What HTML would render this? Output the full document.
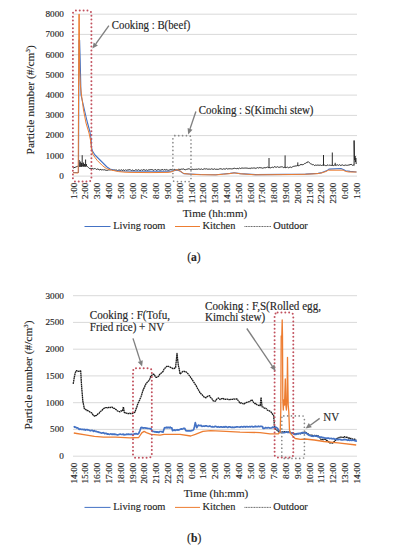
<!DOCTYPE html>
<html><head><meta charset="utf-8"><style>
html,body{margin:0;padding:0;background:#fff;}
svg{display:block;}
text{font-family:"Liberation Serif", serif;fill:#262626;stroke:#262626;stroke-width:0.15px;}
</style></head><body>
<svg width="393" height="550" viewBox="0 0 393 550">
<rect width="393" height="550" fill="#fff"/>
<line x1="73.0" y1="176.1" x2="357.0" y2="176.1" stroke="#d9d9d9" stroke-width="1"/>
<text x="63.9" y="178.9" font-size="9.2" text-anchor="end" >0</text>
<line x1="73.0" y1="155.9" x2="357.0" y2="155.9" stroke="#d9d9d9" stroke-width="1"/>
<text x="63.9" y="158.7" font-size="9.2" text-anchor="end" >1000</text>
<line x1="73.0" y1="135.6" x2="357.0" y2="135.6" stroke="#d9d9d9" stroke-width="1"/>
<text x="63.9" y="138.4" font-size="9.2" text-anchor="end" >2000</text>
<line x1="73.0" y1="115.4" x2="357.0" y2="115.4" stroke="#d9d9d9" stroke-width="1"/>
<text x="63.9" y="118.2" font-size="9.2" text-anchor="end" >3000</text>
<line x1="73.0" y1="95.1" x2="357.0" y2="95.1" stroke="#d9d9d9" stroke-width="1"/>
<text x="63.9" y="97.9" font-size="9.2" text-anchor="end" >4000</text>
<line x1="73.0" y1="74.9" x2="357.0" y2="74.9" stroke="#d9d9d9" stroke-width="1"/>
<text x="63.9" y="77.7" font-size="9.2" text-anchor="end" >5000</text>
<line x1="73.0" y1="54.7" x2="357.0" y2="54.7" stroke="#d9d9d9" stroke-width="1"/>
<text x="63.9" y="57.5" font-size="9.2" text-anchor="end" >6000</text>
<line x1="73.0" y1="34.4" x2="357.0" y2="34.4" stroke="#d9d9d9" stroke-width="1"/>
<text x="63.9" y="37.2" font-size="9.2" text-anchor="end" >7000</text>
<line x1="73.0" y1="14.2" x2="357.0" y2="14.2" stroke="#d9d9d9" stroke-width="1"/>
<text x="63.9" y="17.0" font-size="9.2" text-anchor="end" >8000</text>
<line x1="73.0" y1="456.2" x2="357.0" y2="456.2" stroke="#d9d9d9" stroke-width="1"/>
<text x="63.9" y="459.0" font-size="9.2" text-anchor="end" >0</text>
<line x1="73.0" y1="429.4" x2="357.0" y2="429.4" stroke="#d9d9d9" stroke-width="1"/>
<text x="63.9" y="432.2" font-size="9.2" text-anchor="end" >500</text>
<line x1="73.0" y1="402.7" x2="357.0" y2="402.7" stroke="#d9d9d9" stroke-width="1"/>
<text x="63.9" y="405.5" font-size="9.2" text-anchor="end" >1000</text>
<line x1="73.0" y1="375.9" x2="357.0" y2="375.9" stroke="#d9d9d9" stroke-width="1"/>
<text x="63.9" y="378.8" font-size="9.2" text-anchor="end" >1500</text>
<line x1="73.0" y1="349.2" x2="357.0" y2="349.2" stroke="#d9d9d9" stroke-width="1"/>
<text x="63.9" y="352.0" font-size="9.2" text-anchor="end" >2000</text>
<line x1="73.0" y1="322.4" x2="357.0" y2="322.4" stroke="#d9d9d9" stroke-width="1"/>
<text x="63.9" y="325.2" font-size="9.2" text-anchor="end" >2500</text>
<line x1="73.0" y1="295.7" x2="357.0" y2="295.7" stroke="#d9d9d9" stroke-width="1"/>
<text x="63.9" y="298.5" font-size="9.2" text-anchor="end" >3000</text>
<text transform="translate(76.6,182.6) rotate(-90)" font-size="9.2" text-anchor="end">1:00</text>
<text transform="translate(88.4,182.6) rotate(-90)" font-size="9.2" text-anchor="end">2:00</text>
<text transform="translate(100.2,182.6) rotate(-90)" font-size="9.2" text-anchor="end">3:00</text>
<text transform="translate(112.0,182.6) rotate(-90)" font-size="9.2" text-anchor="end">4:00</text>
<text transform="translate(123.8,182.6) rotate(-90)" font-size="9.2" text-anchor="end">5:00</text>
<text transform="translate(135.6,182.6) rotate(-90)" font-size="9.2" text-anchor="end">6:00</text>
<text transform="translate(147.4,182.6) rotate(-90)" font-size="9.2" text-anchor="end">7:00</text>
<text transform="translate(159.2,182.6) rotate(-90)" font-size="9.2" text-anchor="end">8:00</text>
<text transform="translate(171.0,182.6) rotate(-90)" font-size="9.2" text-anchor="end">9:00</text>
<text transform="translate(182.8,182.6) rotate(-90)" font-size="9.2" text-anchor="end">10:00</text>
<text transform="translate(194.6,182.6) rotate(-90)" font-size="9.2" text-anchor="end">11:00</text>
<text transform="translate(206.4,182.6) rotate(-90)" font-size="9.2" text-anchor="end">12:00</text>
<text transform="translate(218.2,182.6) rotate(-90)" font-size="9.2" text-anchor="end">13:00</text>
<text transform="translate(230.0,182.6) rotate(-90)" font-size="9.2" text-anchor="end">14:00</text>
<text transform="translate(241.8,182.6) rotate(-90)" font-size="9.2" text-anchor="end">15:00</text>
<text transform="translate(253.6,182.6) rotate(-90)" font-size="9.2" text-anchor="end">16:00</text>
<text transform="translate(265.4,182.6) rotate(-90)" font-size="9.2" text-anchor="end">17:00</text>
<text transform="translate(277.2,182.6) rotate(-90)" font-size="9.2" text-anchor="end">18:00</text>
<text transform="translate(289.0,182.6) rotate(-90)" font-size="9.2" text-anchor="end">19:00</text>
<text transform="translate(300.8,182.6) rotate(-90)" font-size="9.2" text-anchor="end">20:00</text>
<text transform="translate(312.6,182.6) rotate(-90)" font-size="9.2" text-anchor="end">21:00</text>
<text transform="translate(324.4,182.6) rotate(-90)" font-size="9.2" text-anchor="end">22:00</text>
<text transform="translate(336.2,182.6) rotate(-90)" font-size="9.2" text-anchor="end">23:00</text>
<text transform="translate(348.0,182.6) rotate(-90)" font-size="9.2" text-anchor="end">0:00</text>
<text transform="translate(359.8,182.6) rotate(-90)" font-size="9.2" text-anchor="end">1:00</text>
<text transform="translate(76.6,462.6) rotate(-90)" font-size="9.2" text-anchor="end">14:00</text>
<text transform="translate(88.4,462.6) rotate(-90)" font-size="9.2" text-anchor="end">15:00</text>
<text transform="translate(100.2,462.6) rotate(-90)" font-size="9.2" text-anchor="end">16:00</text>
<text transform="translate(112.0,462.6) rotate(-90)" font-size="9.2" text-anchor="end">17:00</text>
<text transform="translate(123.8,462.6) rotate(-90)" font-size="9.2" text-anchor="end">18:00</text>
<text transform="translate(135.6,462.6) rotate(-90)" font-size="9.2" text-anchor="end">19:00</text>
<text transform="translate(147.4,462.6) rotate(-90)" font-size="9.2" text-anchor="end">20:00</text>
<text transform="translate(159.2,462.6) rotate(-90)" font-size="9.2" text-anchor="end">21:00</text>
<text transform="translate(171.0,462.6) rotate(-90)" font-size="9.2" text-anchor="end">22:00</text>
<text transform="translate(182.8,462.6) rotate(-90)" font-size="9.2" text-anchor="end">23:00</text>
<text transform="translate(194.6,462.6) rotate(-90)" font-size="9.2" text-anchor="end">0:00</text>
<text transform="translate(206.4,462.6) rotate(-90)" font-size="9.2" text-anchor="end">1:00</text>
<text transform="translate(218.2,462.6) rotate(-90)" font-size="9.2" text-anchor="end">2:00</text>
<text transform="translate(230.0,462.6) rotate(-90)" font-size="9.2" text-anchor="end">3:00</text>
<text transform="translate(241.8,462.6) rotate(-90)" font-size="9.2" text-anchor="end">4:00</text>
<text transform="translate(253.6,462.6) rotate(-90)" font-size="9.2" text-anchor="end">5:00</text>
<text transform="translate(265.4,462.6) rotate(-90)" font-size="9.2" text-anchor="end">6:00</text>
<text transform="translate(277.2,462.6) rotate(-90)" font-size="9.2" text-anchor="end">7:00</text>
<text transform="translate(289.0,462.6) rotate(-90)" font-size="9.2" text-anchor="end">8:00</text>
<text transform="translate(300.8,462.6) rotate(-90)" font-size="9.2" text-anchor="end">9:00</text>
<text transform="translate(312.6,462.6) rotate(-90)" font-size="9.2" text-anchor="end">10:00</text>
<text transform="translate(324.4,462.6) rotate(-90)" font-size="9.2" text-anchor="end">11:00</text>
<text transform="translate(336.2,462.6) rotate(-90)" font-size="9.2" text-anchor="end">12:00</text>
<text transform="translate(348.0,462.6) rotate(-90)" font-size="9.2" text-anchor="end">13:00</text>
<text transform="translate(359.8,462.6) rotate(-90)" font-size="9.2" text-anchor="end">14:00</text>
<text transform="translate(33.6,99.8) rotate(-90)" font-size="11.4" text-anchor="middle">Particle number (#/cm<tspan font-size="7" dy="-4">3</tspan><tspan dy="4">)</tspan></text>
<text transform="translate(32.4,375) rotate(-90)" font-size="11.4" text-anchor="middle">Particle number (#/cm<tspan font-size="7" dy="-4">3</tspan><tspan dy="4">)</tspan></text>
<text x="215.0" y="217.3" font-size="11.1" text-anchor="middle" >Time (hh:mm)</text>
<text x="216.0" y="496.8" font-size="11.1" text-anchor="middle" >Time (hh:mm)</text>
<line x1="84.5" y1="226.5" x2="110.5" y2="226.5" stroke="#4472c4" stroke-width="1.0"/>
<text x="113.2" y="229.0" font-size="10.4" text-anchor="start" >Living room</text>
<line x1="175" y1="226.5" x2="200" y2="226.5" stroke="#ed7d31" stroke-width="1.0"/>
<text x="202.5" y="229.0" font-size="10.4" text-anchor="start" >Kitchen</text>
<line x1="244.5" y1="226.5" x2="271" y2="226.5" stroke="#333" stroke-width="0.8" stroke-dasharray="1 0.6"/>
<text x="273.2" y="229.0" font-size="10.4" text-anchor="start" >Outdoor</text>
<line x1="84.5" y1="507.4" x2="110.5" y2="507.4" stroke="#4472c4" stroke-width="1.0"/>
<text x="113.2" y="509.9" font-size="10.4" text-anchor="start" >Living room</text>
<line x1="175" y1="507.4" x2="200" y2="507.4" stroke="#ed7d31" stroke-width="1.0"/>
<text x="202.5" y="509.9" font-size="10.4" text-anchor="start" >Kitchen</text>
<line x1="244.5" y1="507.4" x2="271" y2="507.4" stroke="#333" stroke-width="0.8" stroke-dasharray="1 0.6"/>
<text x="273.2" y="509.9" font-size="10.4" text-anchor="start" >Outdoor</text>
<text x="193.9" y="260.6" font-size="11.6" text-anchor="middle" >(<tspan font-weight="bold">a</tspan>)</text>
<text x="194.2" y="541.6" font-size="11.6" text-anchor="middle" >(<tspan font-weight="bold">b</tspan>)</text>
<polyline points="73.0,168.1 74.0,167.7 75.0,167.3 75.8,167.1 76.7,166.6 77.5,166.4 78.3,165.5 79.1,166.0 80.0,166.4 80.8,166.1 81.6,166.4 82.4,165.6 83.2,166.0 84.0,165.7 84.9,166.0 85.7,166.1 86.5,165.5 87.5,166.6 88.5,167.6 89.3,168.4 90.2,168.5 91.0,168.2 91.9,168.9 92.8,168.4 93.6,169.0 94.5,168.6 95.4,168.6 96.3,169.5 97.2,169.0 98.1,169.0 99.1,169.9 100.0,169.8 100.9,169.3 101.8,170.1 102.6,169.7 103.4,169.9 104.2,169.5 105.0,170.3 105.8,170.1 106.6,170.4 107.4,170.4 108.2,169.9 109.0,170.0 109.9,169.8 110.7,169.8 111.6,169.7 112.4,169.9 113.3,170.2 114.1,169.7 114.9,170.3 115.8,170.0 116.6,170.0 117.5,170.5 118.3,170.2 119.2,170.0 120.0,170.2 120.8,170.4 121.6,169.7 122.4,170.7 123.2,169.7 124.0,170.4 124.8,170.5 125.6,169.7 126.5,170.4 127.3,170.0 128.1,170.2 128.9,169.6 129.7,169.7 130.5,169.8 131.3,170.6 132.1,169.8 132.9,170.4 133.7,170.5 134.5,170.5 135.3,169.9 136.1,169.9 136.9,170.1 137.7,170.3 138.5,169.7 139.4,170.3 140.2,170.3 141.0,170.4 141.8,169.6 142.6,170.5 143.4,169.6 144.2,169.8 145.0,170.1 145.8,170.4 146.6,169.8 147.4,170.4 148.2,170.0 149.0,169.8 149.8,169.8 150.6,169.6 151.5,169.5 152.3,169.6 153.1,170.1 153.9,170.4 154.7,169.6 155.5,169.5 156.3,170.4 157.1,169.9 157.9,169.8 158.7,169.6 159.5,170.0 160.3,170.2 161.1,169.8 161.9,169.8 162.7,169.4 163.5,170.3 164.4,169.4 165.2,169.8 166.0,170.2 166.8,169.5 167.6,170.1 168.4,170.3 169.2,169.9 170.0,170.1 170.8,169.4 171.7,169.7 172.5,169.3 173.3,170.0 174.2,169.4 175.0,169.5 175.8,170.0 176.7,169.8 177.5,169.9 178.3,169.3 179.2,169.3 180.0,169.5 180.8,169.3 181.6,169.1 182.4,169.2 183.2,168.9 184.0,169.1 184.8,169.7 185.6,169.7 186.4,169.4 187.2,169.2 188.0,169.0 188.8,168.8 189.6,169.0 190.4,169.5 191.2,169.5 192.1,169.0 192.9,169.4 193.7,169.4 194.5,169.3 195.3,169.3 196.1,169.4 196.9,169.0 197.7,169.3 198.5,168.9 199.3,169.1 200.1,169.3 200.9,169.3 201.7,168.9 202.5,169.5 203.3,169.2 204.1,169.1 204.9,168.5 205.7,169.1 206.5,168.8 207.3,169.2 208.1,169.0 208.9,169.3 209.7,169.1 210.5,169.3 211.3,168.8 212.1,169.1 212.9,169.2 213.8,169.3 214.6,168.8 215.4,169.3 216.2,169.3 217.0,169.1 217.8,169.4 218.6,169.3 219.4,168.9 220.2,168.9 221.0,168.5 221.8,169.2 222.6,169.3 223.4,168.8 224.2,169.0 225.0,169.0 225.8,169.0 226.6,168.4 227.4,169.0 228.2,168.8 229.1,168.9 229.9,168.6 230.7,168.8 231.5,168.9 232.3,168.8 233.1,168.9 233.9,168.1 234.7,168.3 235.5,168.5 236.4,168.7 237.2,168.3 238.0,168.7 238.8,168.7 239.6,168.0 240.4,168.5 241.2,168.2 242.0,168.0 242.8,168.1 243.6,168.2 244.5,168.1 245.3,168.1 246.1,167.9 246.9,168.3 247.7,168.2 248.5,168.4 249.3,168.4 250.1,168.0 250.9,168.7 251.8,167.8 252.6,168.2 253.4,168.0 254.2,168.1 255.0,167.8 255.8,168.5 256.7,168.0 257.5,167.6 258.3,168.1 259.2,167.5 260.0,167.9 260.8,167.7 261.7,167.9 262.5,168.2 263.3,168.0 264.2,167.6 265.0,167.9 265.8,167.7 266.7,167.4 267.5,167.1 268.3,167.6 269.2,167.5 270.0,167.9 270.8,167.8 271.7,167.4 272.5,167.2 273.3,167.7 274.2,166.7 275.0,166.8 275.8,167.2 276.7,167.2 277.5,166.7 278.3,167.2 279.2,167.4 280.0,166.9 280.8,167.0 281.7,166.8 282.5,166.9 283.3,167.6 284.2,167.0 285.0,167.7 285.8,167.6 286.7,167.4 287.5,167.1 288.3,167.8 289.2,167.4 290.0,167.3 290.8,167.0 291.7,167.5 292.5,166.8 293.3,166.4 294.2,166.4 295.0,165.8 295.9,166.1 296.7,165.8 297.6,165.4 298.4,165.7 299.3,165.6 300.1,164.6 301.0,164.9 301.9,164.4 302.8,164.8 303.6,164.4 304.5,163.6 305.4,163.4 306.3,162.6 307.1,162.8 308.0,161.5 308.8,162.4 309.7,162.9 310.5,163.7 311.5,164.1 312.4,164.7 313.4,164.5 314.4,165.6 315.3,165.1 316.3,165.3 317.2,165.1 318.2,165.1 319.0,165.3 319.8,165.2 320.6,165.1 321.5,165.5 322.3,165.3 323.1,164.8 323.9,165.0 324.7,165.2 325.6,165.6 326.4,165.6 327.2,165.3 328.0,164.7 328.8,165.5 329.6,165.1 330.4,165.3 331.2,165.4 332.1,165.3 332.9,165.1 333.7,165.6 334.5,165.0 335.3,165.0 336.1,165.5 336.9,164.8 337.8,164.9 338.6,165.4 339.4,164.7 340.2,165.4 341.0,165.3 341.8,165.1 342.6,164.9 343.4,165.4 344.2,165.6 345.0,164.8 345.8,165.2 346.6,165.3 347.4,165.3 348.2,165.1 349.0,165.0 350.1,164.7 351.2,164.3 352.4,165.3 353.5,165.0 354.1,165.5 354.1,140.5 354.5,160.0 355.0,156.0 355.4,162.0 355.8,158.0 356.2,164.0" fill="none" stroke="#2a2a2a" stroke-width="1.0" stroke-linejoin="round" />
<line x1="79.2" y1="166.5" x2="79.2" y2="160" stroke="#2a2a2a" stroke-width="1.0"/>
<line x1="80.0" y1="166.5" x2="80.0" y2="162.5" stroke="#2a2a2a" stroke-width="1.0"/>
<line x1="80.7" y1="166.5" x2="80.7" y2="161.5" stroke="#2a2a2a" stroke-width="1.0"/>
<line x1="81.5" y1="166.5" x2="81.5" y2="163" stroke="#2a2a2a" stroke-width="1.0"/>
<line x1="82.2" y1="166.5" x2="82.2" y2="155.2" stroke="#2a2a2a" stroke-width="1.0"/>
<line x1="83.0" y1="166.5" x2="83.0" y2="163" stroke="#2a2a2a" stroke-width="1.0"/>
<line x1="83.6" y1="166.5" x2="83.6" y2="162.5" stroke="#2a2a2a" stroke-width="1.0"/>
<line x1="84.5" y1="166.5" x2="84.5" y2="164" stroke="#2a2a2a" stroke-width="1.0"/>
<line x1="85.6" y1="166.5" x2="85.6" y2="159.5" stroke="#2a2a2a" stroke-width="1.0"/>
<line x1="86.4" y1="166.5" x2="86.4" y2="164" stroke="#2a2a2a" stroke-width="1.0"/>
<line x1="269" y1="167.9" x2="269" y2="158" stroke="#2a2a2a" stroke-width="1.0"/>
<line x1="285.1" y1="167.7" x2="285.1" y2="155.4" stroke="#2a2a2a" stroke-width="1.0"/>
<line x1="297.8" y1="166.1" x2="297.8" y2="162.4" stroke="#2a2a2a" stroke-width="1.0"/>
<line x1="323.5" y1="165.7" x2="323.5" y2="155.0" stroke="#2a2a2a" stroke-width="1.0"/>
<line x1="332.3" y1="165.7" x2="332.3" y2="152.5" stroke="#2a2a2a" stroke-width="1.0"/>
<line x1="335.2" y1="165.6" x2="335.2" y2="162.8" stroke="#2a2a2a" stroke-width="1.0"/>
<polyline points="73.0,172.5 78.5,172.5 79.0,40.0 79.6,40.0 80.2,60.0 81.0,95.0 84.0,108.0 87.0,121.0 90.0,132.0 91.2,140.0 91.6,148.0 92.5,151.0 95.0,155.0 100.0,160.0 104.0,164.0 107.0,167.0 110.0,169.0 115.0,170.5 120.0,171.0 150.0,171.2 171.0,171.2 174.0,170.6 176.9,169.9 179.9,171.0 183.7,173.6 189.8,174.0 200.5,174.5 215.8,174.7 223.4,174.0 230.0,173.4 234.2,172.7 240.3,173.6 255.5,174.6 285.0,174.4 305.4,174.1 318.0,173.4 322.0,172.6 327.1,170.6 328.9,169.1 340.9,168.5 343.8,169.7 345.5,170.8 350.1,171.4 356.5,172.0" fill="none" stroke="#4472c4" stroke-width="1.1" stroke-linejoin="round" />
<polyline points="73.0,172.8 78.2,173.0 78.9,14.2 79.3,14.2 79.6,70.0 80.3,85.0 81.5,95.0 83.5,110.0 86.0,123.0 89.0,133.0 90.5,140.0 91.5,150.0 93.0,154.5 95.0,157.5 97.2,160.4 102.3,165.5 106.4,168.6 111.5,170.1 118.6,171.6 125.0,172.2 130.0,172.4 150.0,172.6 168.0,172.4 171.0,172.0 173.8,170.8 176.9,169.6 179.9,170.8 183.7,173.5 189.8,174.2 200.5,174.7 215.8,174.9 223.4,174.2 230.0,173.6 234.2,172.9 240.3,173.8 255.5,174.8 285.0,174.6 305.4,174.3 318.0,173.6 322.0,172.8 326.0,171.5 328.3,170.2 343.2,170.2 345.5,171.4 348.9,172.0 356.5,172.0" fill="none" stroke="#ed7d31" stroke-width="1.0" stroke-linejoin="round" />
<polyline points="73.2,383.8 74.2,377.9 75.3,372.6 76.5,370.6 78.0,371.5 78.9,371.2 79.8,370.8 80.7,371.0 81.6,386.3 82.8,400.9 84.3,408.6 85.2,409.1 86.0,409.8 86.9,410.6 87.8,410.5 88.7,411.0 89.6,411.8 90.5,412.5 91.4,412.6 92.3,413.6 93.1,415.3 94.0,415.7 94.9,416.3 95.8,415.6 96.7,415.3 97.6,414.3 98.5,413.5 99.4,413.0 100.3,411.4 101.2,411.0 102.0,410.2 102.9,409.2 103.8,408.5 104.7,407.9 105.6,407.7 106.5,407.6 107.4,407.9 108.3,407.5 109.2,407.3 110.1,407.5 111.0,407.3 111.9,407.0 112.8,407.9 113.7,408.3 114.5,408.3 115.4,409.1 116.3,409.7 117.2,410.7 118.1,411.2 119.0,411.5 119.9,411.9 120.8,410.9 121.6,411.0 122.5,411.0 123.4,406.9 124.3,412.5 125.2,412.3 126.1,413.1 127.0,413.4 127.9,413.5 128.8,413.7 129.7,413.2 130.5,413.6 131.4,413.5 132.3,413.5 133.2,412.8 134.1,412.6 135.0,412.1 135.9,409.3 136.8,407.0 137.7,404.1 138.8,401.9 140.0,399.1 140.9,396.9 141.8,394.3 142.7,391.3 143.6,388.9 144.5,387.4 145.3,385.0 146.2,383.6 147.1,382.4 148.0,381.5 148.9,380.6 149.8,379.0 150.7,376.2 151.6,375.4 152.5,374.6 153.4,374.1 154.3,374.6 155.1,376.2 156.0,377.4 156.9,377.3 157.8,376.8 158.7,376.0 159.6,374.6 160.5,373.8 161.4,372.9 162.3,372.2 163.2,371.2 164.0,369.3 164.9,368.2 165.8,367.4 166.7,366.5 167.6,365.8 168.5,366.5 169.4,366.8 170.3,367.2 171.2,367.8 172.1,368.1 173.0,368.6 173.9,368.6 174.7,368.1 175.6,367.6 177.0,353.5 178.3,365.2 179.2,369.0 180.1,374.2 181.0,373.2 181.8,372.4 182.7,371.5 183.6,371.3 184.5,371.5 185.4,371.4 186.3,372.1 187.2,372.7 188.1,373.9 189.0,375.1 189.9,376.2 190.8,377.7 191.7,378.8 192.5,380.1 193.4,381.6 194.3,382.9 195.2,384.4 196.1,385.4 197.0,387.5 197.9,389.1 198.8,390.4 199.7,392.3 200.6,393.3 201.4,394.2 202.3,394.9 203.2,396.2 204.1,397.0 205.0,397.2 205.9,397.9 206.8,396.9 207.7,396.3 208.6,396.0 209.5,395.6 210.4,397.3 211.2,397.9 212.1,399.0 213.0,400.6 213.9,401.0 214.8,401.4 215.7,400.7 216.6,399.2 217.5,398.7 218.4,398.0 219.2,398.8 220.1,399.6 221.0,398.9 221.9,398.7 222.8,398.2 223.7,399.0 224.6,399.0 225.5,399.4 226.4,399.2 227.3,399.1 228.2,399.5 229.1,399.6 229.9,399.5 230.8,399.3 231.7,399.3 232.6,399.3 233.5,398.9 234.4,399.2 235.3,399.1 236.2,398.9 237.1,399.0 238.0,400.3 238.8,401.3 239.7,402.8 240.6,403.2 241.5,402.9 242.4,403.5 243.3,403.8 244.2,403.9 245.1,403.1 246.0,402.7 246.8,402.4 247.7,402.1 248.6,401.8 249.6,401.3 250.7,400.7 251.7,399.7 252.8,401.2 254.0,403.1 254.9,403.7 255.8,403.5 256.6,404.4 257.5,405.1 258.4,405.3 259.3,405.5 260.2,405.6 261.1,397.3 262.0,406.8 262.9,406.8 263.8,407.7 264.7,408.3 265.6,408.2 266.5,408.9 267.4,410.1 268.2,410.5 269.1,410.7 270.0,411.3 270.9,411.9 271.8,413.2 272.7,414.4 273.6,415.1 274.6,428.1 275.5,429.2 276.4,429.8 277.4,430.4 278.3,431.5 279.2,432.1 280.1,431.8 280.9,432.6 281.8,432.2 282.7,432.0 283.6,432.2 284.4,431.7 285.3,431.9 286.2,432.1 287.1,431.7 288.0,431.9 288.9,432.1 289.8,432.2 290.7,432.8 291.6,432.8 292.6,433.2 293.5,433.3 294.4,434.3 295.3,433.7 296.1,433.7 297.0,433.8 297.9,434.0 298.8,433.5 299.6,433.9 300.5,433.5 301.4,433.3 302.3,433.1 303.3,432.4 304.2,432.6 305.1,432.1 306.0,432.5 306.9,433.7 307.9,433.7 308.8,434.5 309.7,435.2 310.5,435.2 311.4,435.1 312.2,435.4 313.0,435.5 313.9,435.8 314.8,435.3 315.7,435.8 316.6,435.5 317.5,435.6 318.4,436.1 319.3,437.1 320.3,438.3 321.2,439.6 322.0,439.8 322.9,439.3 323.7,439.5 324.6,439.4 325.4,439.4 326.2,440.2 327.1,440.6 327.9,441.3 328.8,441.9 329.6,442.9 330.5,442.8 331.4,443.0 332.2,443.2 333.1,442.7 334.0,441.8 335.0,441.0 335.9,439.7 336.8,438.6 337.6,438.2 338.5,438.1 339.4,437.3 340.2,437.3 341.0,437.0 341.9,437.5 342.7,437.4 343.5,437.4 344.3,436.6 345.2,437.3 346.1,437.4 346.9,437.1 347.8,437.9 348.6,438.2 349.5,437.8 350.3,438.7 351.2,438.4 352.0,438.7 352.8,439.4 353.7,439.4 354.5,439.1 355.4,439.5 356.2,439.8" fill="none" stroke="#1a1a1a" stroke-width="1.3" stroke-linejoin="round" stroke-dasharray="1.8 0.4"/>
<polyline points="73.8,426.3 74.7,427.3 75.6,427.0 76.5,427.9 77.4,427.8 78.3,428.4 79.2,429.4 80.1,428.9 80.9,429.4 81.8,429.3 82.7,429.4 83.6,429.6 84.4,429.4 85.3,430.1 86.1,429.5 87.0,429.8 87.8,429.7 88.6,430.0 89.4,430.3 90.3,430.8 91.1,430.5 91.9,430.3 92.7,430.6 93.6,431.3 94.4,430.6 95.3,431.3 96.1,431.3 97.0,431.8 97.9,431.8 98.8,432.3 99.6,432.4 100.5,432.7 101.3,433.1 102.2,432.9 103.0,432.7 103.8,432.8 104.7,433.7 105.5,433.4 106.4,433.3 107.2,434.1 108.0,433.9 108.9,434.2 109.7,434.4 110.5,433.9 111.4,434.0 112.2,434.5 113.0,433.9 113.9,434.5 114.7,434.0 115.6,434.5 116.4,434.6 117.2,434.8 118.1,434.8 118.9,434.5 119.8,434.2 120.6,434.2 121.5,434.5 122.3,434.5 123.2,434.1 124.0,434.9 124.9,434.5 125.7,434.7 126.6,434.2 127.4,434.3 128.3,434.1 129.1,434.4 130.0,434.3 130.9,434.4 131.7,434.2 132.6,434.6 133.5,434.5 134.3,433.8 135.2,433.9 136.1,433.6 137.0,434.0 137.8,434.2 138.7,433.4 139.8,431.0 141.0,427.6 142.0,427.4 143.0,428.2 144.0,427.9 144.9,427.8 145.8,428.1 146.6,428.1 147.5,428.3 148.4,428.5 149.2,428.5 150.1,428.8 151.0,428.6 152.3,431.4 153.1,431.4 153.9,431.5 154.8,431.9 155.6,431.7 156.4,432.2 157.2,431.9 158.1,432.1 158.9,432.4 159.7,431.5 160.5,431.5 161.4,431.6 162.2,431.9 163.0,432.1 164.5,427.8 165.3,427.5 166.1,428.0 166.9,427.2 167.7,427.9 168.6,427.3 169.4,427.9 170.2,427.2 171.0,428.0 171.8,427.8 172.5,430.6 173.4,430.2 174.3,429.8 175.2,430.5 176.2,430.0 177.1,429.7 178.0,430.1 178.8,429.8 179.7,429.6 180.5,429.1 181.3,428.9 182.1,429.1 182.9,428.8 183.8,428.3 184.6,428.3 186.0,430.7 186.9,430.8 187.9,430.8 188.8,430.8 189.8,430.9 190.7,431.0 191.7,430.5 192.7,430.4 193.7,429.6 194.5,426.5 195.3,422.7 196.8,427.7 198.3,425.1 199.2,425.5 200.1,425.6 201.1,425.4 202.0,426.3 202.9,426.2 203.8,426.0 204.6,426.3 205.5,425.9 206.4,425.9 207.3,426.2 208.1,426.5 209.0,426.4 209.8,425.9 210.7,426.5 211.5,426.8 212.3,426.7 213.2,426.9 214.0,427.0 214.9,426.3 215.7,426.4 216.5,426.7 217.4,427.1 218.2,426.6 219.0,427.1 219.8,427.1 220.7,426.8 221.5,426.9 222.3,427.2 223.1,427.1 224.0,426.7 224.8,427.2 225.6,426.6 226.4,426.8 227.3,427.4 228.1,427.3 228.9,426.8 229.8,426.8 230.6,427.1 231.5,427.3 232.3,427.2 233.2,427.4 234.0,427.2 234.9,427.3 235.7,427.1 236.6,426.9 237.4,426.9 238.3,427.0 239.1,427.0 240.0,427.3 240.8,426.8 241.6,426.6 242.4,427.1 243.2,426.7 244.0,426.8 244.8,426.5 245.6,427.1 246.4,426.6 247.2,426.6 248.0,427.0 248.8,426.7 249.6,426.5 250.4,427.0 251.2,426.5 252.1,426.4 252.9,427.0 253.7,426.8 254.5,426.7 255.3,426.2 256.1,426.7 256.9,426.5 257.7,426.7 258.5,426.2 259.3,426.6 260.1,426.5 260.9,426.2 261.7,426.4 262.5,426.5 263.0,428.3 263.9,428.3 264.8,428.1 265.6,427.5 266.5,427.9 267.4,428.0 268.2,427.5 269.1,427.8 270.0,428.1 270.9,428.0 271.8,427.9 272.6,427.0 273.5,427.4 274.4,427.5 275.3,427.1 276.3,427.6 277.4,428.2 278.4,429.8 279.5,431.2 280.7,432.5 281.5,432.3 282.4,432.7 283.2,432.7 284.1,432.6 284.9,432.5 285.8,432.2 286.6,432.2 287.5,432.3 288.3,432.2 289.2,432.4 290.0,432.1 290.9,433.0 291.8,433.1 292.6,433.3 293.5,433.8 294.4,434.3 295.3,434.2 296.1,434.4 297.0,433.7 297.9,433.6 298.8,433.6 299.6,433.3 300.5,433.7 301.4,432.9 302.3,432.7 303.3,432.9 304.2,432.8 305.1,432.7 306.0,433.1 306.9,433.5 307.9,434.6 308.8,435.1 309.7,435.5 310.6,435.7 311.4,436.1 312.3,436.2 313.2,436.3 314.1,435.7 314.9,435.9 315.8,436.1 316.7,436.0 317.5,436.7 318.4,436.2 319.2,437.1 320.1,437.0 320.9,437.1 321.8,437.1 322.6,437.7 323.4,437.5 324.3,437.9 325.1,438.1 326.0,438.0 326.8,438.4 327.7,438.1 328.5,438.1 329.4,438.6 330.2,438.5 331.1,438.4 332.0,438.8 332.8,438.7 333.7,438.5 334.6,439.3 335.4,439.1 336.3,439.6 337.1,439.3 338.0,439.8 338.9,439.3 339.7,439.3 340.6,439.6 341.4,439.9 342.3,440.0 343.2,439.9 344.0,439.4 344.9,439.7 345.8,439.5 346.6,439.8 347.5,440.4 348.3,439.9 349.2,440.3 350.1,440.3 350.9,439.9 351.8,440.5 352.6,440.0 353.5,440.2 354.3,440.6 355.2,440.3 356.0,441.1 356.9,440.8" fill="none" stroke="#4472c4" stroke-width="1.7" stroke-linejoin="round" />
<polyline points="73.8,433.0 85.3,434.8 94.4,436.4 103.6,437.1 115.8,437.1 130.0,437.9 138.7,437.5 141.8,432.9 144.1,431.4 146.4,432.6 151.0,434.4 160.1,435.2 163.9,434.4 170.8,434.4 180.0,434.4 190.7,436.0 195.3,434.4 202.9,431.4 210.5,430.6 225.8,431.4 240.0,432.1 260.0,432.6 270.0,433.9 278.4,433.9 280.2,432.0 280.8,410.0 281.2,336.0 281.8,336.0 282.2,320.0 282.5,336.0 282.8,400.0 283.3,410.0 283.8,400.0 284.5,405.0 285.3,379.0 285.8,405.0 286.4,410.0 287.0,400.0 287.5,357.3 287.8,380.0 288.2,405.0 288.8,412.0 289.5,430.0 290.2,433.0 290.6,433.5 292.9,436.2 295.2,438.5 300.5,439.3 305.1,439.0 314.3,440.0 324.0,441.5 338.0,442.9 356.2,445.0" fill="none" stroke="#ed7d31" stroke-width="1.3" stroke-linejoin="round" />
<rect x="72.9" y="10.6" width="18.5" height="171.0" rx="3" fill="none" stroke="#c2525f" stroke-width="2.0" stroke-linecap="round" stroke-dasharray="0 3.85"/>
<line x1="108.9" y1="25.6" x2="95.8" y2="43.9" stroke="#7f7f7f" stroke-width="1.35"/>
<polygon points="92.4,48.6 93.7,42.4 97.9,45.4" fill="#7f7f7f"/>
<text x="111.8" y="28.8" font-size="11.7" textLength="78.6" lengthAdjust="spacingAndGlyphs">Cooking : B(beef)</text>
<rect x="172.9" y="135.7" width="18.099999999999994" height="45.900000000000006" rx="2" fill="none" stroke="#8a8a8a" stroke-width="1.7" stroke-linecap="round" stroke-dasharray="0 3.85"/>
<line x1="195.9" y1="111.5" x2="190.0" y2="128.9" stroke="#7f7f7f" stroke-width="1.35"/>
<polygon points="188.2,134.4 187.6,128.1 192.5,129.7" fill="#7f7f7f"/>
<text x="198.8" y="113.6" font-size="11.7" textLength="114.7" lengthAdjust="spacingAndGlyphs">Cooking : S(Kimchi stew)</text>
<rect x="133" y="368.2" width="18.80000000000001" height="89.60000000000002" rx="3" fill="none" stroke="#c2525f" stroke-width="2.0" stroke-linecap="round" stroke-dasharray="0 3.85"/>
<line x1="133" y1="338.4" x2="140.3" y2="361.1" stroke="#7f7f7f" stroke-width="1.35"/>
<polygon points="142.1,366.6 137.8,361.9 142.8,360.3" fill="#7f7f7f"/>
<text x="89.8" y="318.9" font-size="11.7" textLength="80.3" lengthAdjust="spacingAndGlyphs">Cooking : F(Tofu,</text>
<text x="89.8" y="330.9" font-size="11.7" textLength="74.4" lengthAdjust="spacingAndGlyphs">Fried rice) + NV</text>
<rect x="274.6" y="312.6" width="18.69999999999999" height="145.0" rx="3" fill="none" stroke="#c2525f" stroke-width="2.0" stroke-linecap="round" stroke-dasharray="0 3.85"/>
<rect x="281.8" y="415.9" width="22.599999999999966" height="42.5" rx="2" fill="none" stroke="#8a8a8a" stroke-width="1.7" stroke-linecap="round" stroke-dasharray="0 3.85"/>
<line x1="246.8" y1="328.5" x2="272.3" y2="366.1" stroke="#7f7f7f" stroke-width="1.35"/>
<polygon points="275.6,370.9 270.2,367.6 274.5,364.6" fill="#7f7f7f"/>
<text x="205.0" y="309.5" font-size="11.7" textLength="116.0" lengthAdjust="spacingAndGlyphs">Cooking : F,S(Rolled egg,</text>
<text x="205.0" y="321.4" font-size="11.7" textLength="60.1" lengthAdjust="spacingAndGlyphs">Kimchi stew)</text>
<line x1="319.7" y1="418.4" x2="310.3" y2="425.2" stroke="#7f7f7f" stroke-width="1.35"/>
<polygon points="305.6,428.6 308.8,423.1 311.8,427.3" fill="#7f7f7f"/>
<text x="323.2" y="421.4" font-size="11.6" textLength="15.9" lengthAdjust="spacingAndGlyphs">NV</text>
</svg></body></html>
